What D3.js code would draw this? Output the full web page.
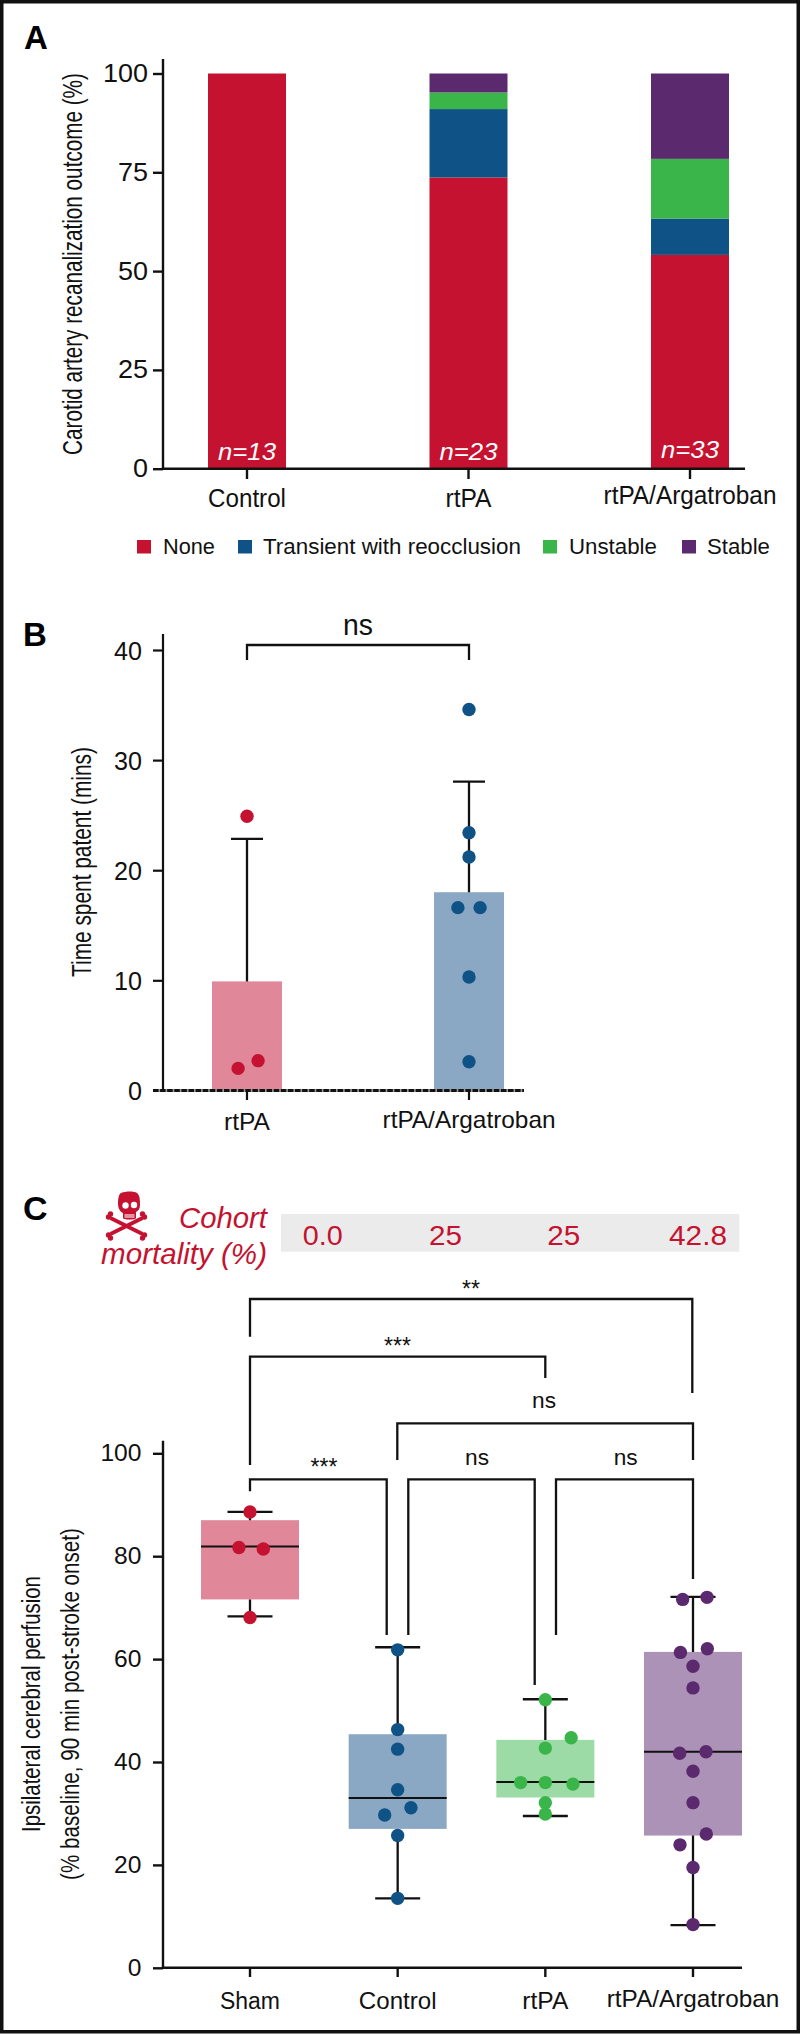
<!DOCTYPE html>
<html><head><meta charset="utf-8">
<script src="https://cdn.jsdelivr.net/npm/d3@7/dist/d3.min.js"></script>
<style>html,body{margin:0;padding:0;background:#fff}svg{display:block}
text{font-family:"Liberation Sans",Arial,sans-serif;fill:#111}</style></head>
<body><svg id="c" width="800" height="2035"></svg>
<script>
// Panel A data
const aCategories = ["Control","rtPA","rtPA/Argatroban"];
const aN = ["n=13","n=23","n=33"];
const aOutcomes = ["None","Transient with reocclusion","Unstable","Stable"];
const aNone = [100,73.7,54.1];
const aTransient = [0,17.3,9.2];
const aUnstable = [0,4.2,15.1];
const aStable = [0,4.8,21.6];
const aTicks = [0,25,50,75,100];
// Panel B data
const bCategories = ["rtPA","rtPA/Argatroban"];
const bMeans = [9.9,18.0];
const bErrorTops = [22.85,28.05];
const bPointsRtpa = [[24.9,0],[2.0,-0.04],[2.7,0.05]];
const bPointsArg = [[34.6,0],[23.4,0],[21.2,0],[16.6,-0.05],[16.6,0.05],[10.3,0],[2.6,0]];
const bTicks = [0,10,20,30,40];
// Panel C data
const cCategories = ["Sham","Control","rtPA","rtPA/Argatroban"];
const cMortality = ["0.0","25","25","42.8"];
const cTicks = [0,20,40,60,80,100];
const cWhiskerLow = [68.3,13.5,29.5,8.3];
const cQ1 = [71.6,27.0,33.1,25.7];
const cMedian = [81.9,33.0,36.1,42.0];
const cQ3 = [87.0,45.4,44.3,61.4];
const cWhiskerHigh = [88.6,62.3,52.2,72.1];
const cPointsSham = [[88.6,0],[81.7,-0.075],[81.4,0.09],[68.1,0]];
const cPointsControl = [[61.8,0],[46.3,0],[42.5,0],[34.6,0],[25.7,0],[13.5,0],[29.7,-0.088],[31.1,0.09]];
const cPointsRtpa = [[52.1,0],[44.7,0.175],[42.7,0],[36,-0.167],[36,0],[35.7,0.187],[32.1,0],[29.9,0]];
const cPointsArg = [[71.6,-0.07],[72,0.095],[61.3,-0.085],[62,0.097],[58.6,0],[54.4,0],[41.7,-0.09],[42,0.088],[38.2,0],[32.1,0],[26,0.09],[23.9,-0.088],[19.5,0],[8.4,0]];

const RED="#c41230",BLUE="#0f5286",GREEN="#39b54a",PURPLE="#5b2a6e";
const LIGHT=["#e08799","#8aa8c3","#9cdba5","#ac92b6"];
const svg=d3.select("#c");
svg.append("rect").attr("x",1.75).attr("y",1.75).attr("width",796.5).attr("height",2030).attr("fill","#fff").attr("stroke","#111").attr("stroke-width",3.5);

function label(g,str,x,y,size,opts={}){
  const t=g.append("text").attr("x",x).attr("y",y).attr("font-size",size).text(str);
  if(opts.anchor)t.attr("text-anchor",opts.anchor);
  if(opts.fill)t.style("fill",opts.fill);
  if(opts.italic)t.attr("font-style","italic");
  if(opts.bold)t.attr("font-weight","bold");
  if(opts.w){
    const natural=t.node().getComputedTextLength();
    t.attr("x",0).attr("y",0).attr("transform",`translate(${x},${y}) scale(${opts.w/natural},1)`);
  }
  return t;
}
function rotLabel(str,cx,cy,size,w){
  const g=svg.append("g").attr("transform",`translate(${cx},${cy}) rotate(-90)`);
  label(g,str,0,0,size,{anchor:"middle",w});
}
function axisLeft(y,ticks,axX,top,tw,lbl){
  const g=svg.append("g").attr("transform",`translate(${axX},0)`);
  g.call(d3.axisLeft(y).tickValues(ticks).tickSize(10).tickPadding(4));
  g.selectAll("path,line").attr("stroke","#111").attr("stroke-width",tw);
  g.select("path.domain").attr("d",`M0,${top}V${y(0)}`);
  g.selectAll("text").remove();
  ticks.forEach(v=>{label(g,String(v),lbl.x-axX,y(v)+lbl.dy,lbl.size,{anchor:"end",w:String(v).length*lbl.cw});});
}
function bracket(x1,y1,x2,y2,yb){
  svg.append("path").attr("fill","none").attr("stroke","#111").attr("stroke-width",2.3)
    .attr("d",d3.line()([[x1,y1],[x1,yb],[x2,yb],[x2,y2]]));
}
function xTick(x,y0,y1,w){svg.append("line").attr("x1",x).attr("x2",x).attr("y1",y0).attr("y2",y1).attr("stroke","#111").attr("stroke-width",w);}

// ---------- A
{
 const y=d3.scaleLinear().domain([0,100]).range([468.7,73.5]);
 const x=d3.scalePoint().domain(aCategories).range([247,690]);
 const bw=78;
 const stackData=aCategories.map((c,i)=>({c,None:aNone[i],"Transient with reocclusion":aTransient[i],Unstable:aUnstable[i],Stable:aStable[i]}));
 const stack=d3.stack().keys(aOutcomes)(stackData);
 const col=[RED,BLUE,GREEN,PURPLE];
 svg.append("g").selectAll("g").data(stack).join("g").attr("fill",(d,i)=>col[i])
  .selectAll("rect").data(d=>d).join("rect")
  .attr("x",d=>x(d.data.c)-bw/2).attr("width",bw)
  .attr("y",d=>y(d[1])).attr("height",d=>y(d[0])-y(d[1]));
 axisLeft(y,aTicks,163,59,2.4,{x:148,dy:8.5,size:25,cw:15});
 svg.append("line").attr("x1",161.8).attr("x2",745).attr("y1",y(0)).attr("y2",y(0)).attr("stroke","#111").attr("stroke-width",2.6);
 const lblB=[507,507,503.5],lblW=[78,46,173];
 aCategories.forEach((c,i)=>{xTick(x(c),y(0),479,2.4);label(svg,c,x(c),lblB[i],25,{anchor:"middle",w:lblW[i]});});
 const nB=[460,460,457.5];
 aN.forEach((n,i)=>label(svg,n,x(aCategories[i]),nB[i],24,{anchor:"middle",italic:true,fill:"#fff",w:58}));
 rotLabel("Carotid artery recanalization outcome (%)",81.5,264,27,382);
 const legX=[137,238,543,682],legT=[163,263,569,707],legW=[52,258,88,63];
 aOutcomes.forEach((o,i)=>{
  svg.append("rect").attr("x",legX[i]).attr("y",540).attr("width",14).attr("height",13.5).attr("fill",col[i]);
  label(svg,o,legT[i],554,22.5,{w:legW[i]});
 });
 label(svg,"A",24,49,33,{bold:true}).style("fill","#000");
}
// ---------- B
{
 const y=d3.scaleLinear().domain([0,40]).range([1090.4,650]);
 const x=d3.scaleLinear().domain([0,1]).range([247,469]);
 const bw=70;
 svg.append("g").selectAll("rect").data(bMeans).join("rect")
  .attr("x",(d,i)=>x(i)-bw/2).attr("width",bw).attr("y",d=>y(d)).attr("height",d=>y(0)-y(d))
  .attr("fill",(d,i)=>LIGHT[i]);
 bMeans.forEach((m,i)=>{
  svg.append("path").attr("fill","none").attr("stroke","#111").attr("stroke-width",2.3)
   .attr("d",`M${x(i)},${y(m)}V${y(bErrorTops[i])}M${x(i)-16},${y(bErrorTops[i])}H${x(i)+16}`);
 });
 axisLeft(y,bTicks,163,634,2.2,{x:142,dy:10,size:25,cw:14});
 svg.append("line").attr("x1",153).attr("x2",524).attr("y1",y(0)).attr("y2",y(0)).attr("stroke","#999").attr("stroke-width",3);
 svg.append("line").attr("x1",153).attr("x2",524).attr("y1",y(0)).attr("y2",y(0)).attr("stroke","#111").attr("stroke-width",3).attr("stroke-dasharray","5.5 1.6");
 const lblW=[46,173],lblB=[1130,1128];
 bCategories.forEach((c,i)=>{xTick(x(i),y(0),1100,2.2);label(svg,c,x(i),lblB[i],24,{anchor:"middle",w:lblW[i]});});
 [[bPointsRtpa,RED,0],[bPointsArg,BLUE,1]].forEach(([pts,c,i])=>{
  svg.append("g").selectAll("circle").data(pts).join("circle")
   .attr("cx",d=>x(i+d[1])).attr("cy",d=>y(d[0])).attr("r",6.7).attr("fill",c);
 });
 bracket(x(0),660,x(1),660,645);
 label(svg,"ns",358,635,29,{anchor:"middle",w:30});
 rotLabel("Time spent patent (mins)",91,862,27,230);
 label(svg,"B",23,645.5,33,{bold:true}).style("fill","#000");
}
// ---------- C
{
 const y=d3.scaleLinear().domain([0,100]).range([1967.8,1453.3]);
 const x=d3.scaleLinear().domain([0,3]).range([250,693]);
 const bw=98;
 cCategories.forEach((c,i)=>{
  const g=svg.append("g");
  g.append("rect").attr("x",x(i)-bw/2).attr("width",bw).attr("y",y(cQ3[i])).attr("height",y(cQ1[i])-y(cQ3[i])).attr("fill",LIGHT[i]);
  g.append("path").attr("fill","none").attr("stroke","#111").attr("stroke-width",2.3)
   .attr("d",`M${x(i)},${y(cWhiskerHigh[i])}V${y(cQ3[i])}M${x(i)},${y(cQ1[i])}V${y(cWhiskerLow[i])}M${x(i)-22.5},${y(cWhiskerHigh[i])}H${x(i)+22.5}M${x(i)-22.5},${y(cWhiskerLow[i])}H${x(i)+22.5}`);
  g.append("line").attr("x1",x(i)-bw/2).attr("x2",x(i)+bw/2).attr("y1",y(cMedian[i])).attr("y2",y(cMedian[i])).attr("stroke","#111").attr("stroke-width",2);
 });
 [[cPointsSham,RED],[cPointsControl,BLUE],[cPointsRtpa,GREEN],[cPointsArg,PURPLE]].forEach(([pts,c],i)=>{
  svg.append("g").selectAll("circle").data(pts).join("circle")
   .attr("cx",d=>x(i+d[1])).attr("cy",d=>y(d[0])).attr("r",6.7).attr("fill",c);
 });
 axisLeft(y,cTicks,163,1440.7,2.4,{x:141.5,dy:8,size:23,cw:13.7});
 svg.append("line").attr("x1",161.8).attr("x2",742).attr("y1",y(0)).attr("y2",y(0)).attr("stroke","#111").attr("stroke-width",2.4);
 const lblW=[60,77.7,46,172.7],lblB=[2009,2009,2009,2007.4];
 cCategories.forEach((c,i)=>{xTick(x(i),y(0),1977,2.4);label(svg,c,x(i),lblB[i],23,{anchor:"middle",w:lblW[i]});});
 // mortality strip
 svg.append("rect").attr("x",281).attr("y",1214).attr("width",458.3).attr("height",37.7).attr("fill","#ebebeb");
 const mx=[322.7,445.5,563.7,698],mw=[40,33,33,58];
 cMortality.forEach((m,i)=>label(svg,m,mx[i],1244.7,28,{anchor:"middle",fill:RED,w:mw[i]}));
 label(svg,"Cohort",267,1228,29,{anchor:"end",italic:true,fill:RED,w:88});
 label(svg,"mortality (%)",267,1264,29,{anchor:"end",italic:true,fill:RED,w:166});
 // skull and crossbones
 const bones=svg.append("g").attr("transform","translate(126.5,1226)").attr("fill",RED);
 bones.append("path").attr("stroke",RED).attr("stroke-width",3.8).attr("fill","none").attr("d","M-16,-8L16,8M16,-8L-16,8");
 [[-18,-9],[-16,-12],[18,-9],[16,-12],[-18,9],[-16,12],[18,9],[16,12]].forEach(p=>bones.append("circle").attr("cx",p[0]).attr("cy",p[1]).attr("r",2.7));
 const sk=svg.append("g").attr("transform","translate(129,1206)").attr("fill",RED);
 sk.append("path").attr("d","M-8,-13C-3,-15 5,-15 8,-13C11,-11 11,-5 11,-1C11,3 9,5 7,6L7,12C7,14 -6,14 -6,12L-6,7C-10,5 -11,1 -11,-3C-11,-8 -10,-12 -8,-13Z");
 sk.append("circle").attr("cx",-3.5).attr("cy",-0.5).attr("r",3.2).attr("fill","#fff");
 sk.append("circle").attr("cx",5).attr("cy",-1).attr("r",3.2).attr("fill","#fff");
 sk.append("rect").attr("x",-4.5).attr("y",8).attr("width",10).attr("height",4).attr("fill","#fff").attr("opacity",0.55);
 // brackets
 bracket(250,1336.7,692.3,1393,1299);
 bracket(250,1465,545.3,1378,1356.7);
 bracket(397.3,1460,693,1460,1423.3);
 bracket(250,1491.3,386.7,1635,1479.3);
 bracket(408.3,1635,534.7,1685,1479.3);
 bracket(556,1635,693,1579,1479.3);
 label(svg,"**",471,1296.5,23,{anchor:"middle"});
 label(svg,"***",397.5,1353.5,23,{anchor:"middle"});
 label(svg,"***",324,1475,23,{anchor:"middle"});
 label(svg,"ns",544,1408,23,{anchor:"middle",w:24});
 label(svg,"ns",477,1465,23,{anchor:"middle",w:24});
 label(svg,"ns",625.7,1465,23,{anchor:"middle",w:24});
 rotLabel("Ipsilateral cerebral perfusion",40,1704,26,256);
 rotLabel("(% baseline, 90 min post-stroke onset)",78.5,1704,26,352);
 label(svg,"C",23,1220,34,{bold:true}).style("fill","#000");
}
</script></body></html>
